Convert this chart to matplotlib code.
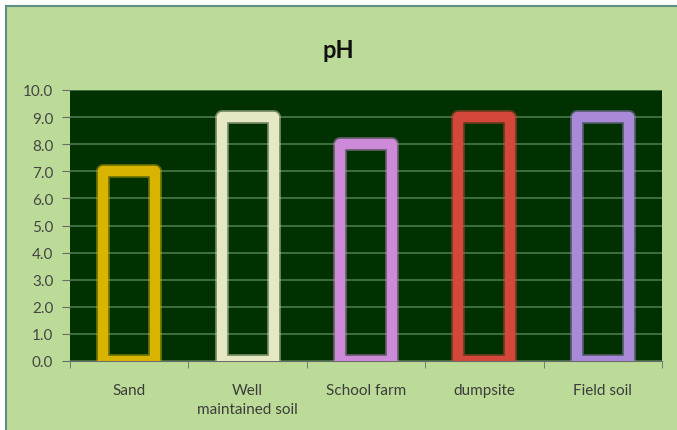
import matplotlib
matplotlib.use("Agg")
import matplotlib.pyplot as plt
from matplotlib.patches import Rectangle
import numpy as np

plt.rcParams['font.family'] = ['Lato', 'DejaVu Sans']

# soil samples and their pH
samples = ['Sand', 'Well\nmaintained soil', 'School farm', 'dumpsite', 'Field soil']
ph = [7.0, 9.0, 8.0, 9.0, 9.0]
edge_colors = ['#d8b400', '#e6e8c4', '#cc8ad8', '#d4483c', '#a88ad8']
yticks = np.arange(0, 10.01, 1.0)

W, H = 677, 431
fig = plt.figure(figsize=(W / 100, H / 100), dpi=100, facecolor='white')

# light green chart panel with a thin frame on the left/top
fig.patches.append(Rectangle((6 / W, -0.01), 1.0, 1 - 7 / H + 0.01,
                             transform=fig.transFigure, facecolor='#bcdb98',
                             edgecolor='#5f8f86', linewidth=1.5, zorder=-5))

ax = fig.add_axes([70 / W, (H - 362) / H, (662 - 70) / W, (362 - 91) / H])
ax.set_facecolor('#013101')

x = np.arange(len(samples))
# soft glow behind the outlined bars
ax.bar(x, ph, width=0.44, fill=False, edgecolor=edge_colors,
       linewidth=10.0, joinstyle='round', alpha=0.45, zorder=2)
ax.bar(x, ph, width=0.44, fill=False, edgecolor=edge_colors,
       linewidth=7.5, joinstyle='round', zorder=3)

ax.set_xlim(-0.5, len(samples) - 0.5)
ax.set_ylim(0, 10)
ax.set_yticks(yticks)
ax.set_yticklabels([f'{v:.1f}' for v in yticks], fontsize=11, color='#454545')
ax.yaxis.grid(True, color='#477a4a', linewidth=1.2, zorder=1)
ax.set_axisbelow(True)

ax.set_xticks(x)
ax.set_xticklabels(samples, fontsize=11, color='#3c3c3c', linespacing=1.45)
ax.set_xticks(np.arange(-0.5, len(samples)), minor=True)
ax.tick_params(axis='x', which='major', length=0, pad=16)
ax.tick_params(axis='x', which='minor', length=5, color='#6b6b6b')
ax.tick_params(axis='y', length=6, color='#6b6b6b', pad=6)

for side in ['top', 'right', 'left']:
    ax.spines[side].set_visible(False)
ax.spines['bottom'].set_color('#6b6b6b')

fig.text(0.5, 1 - 50 / H, 'pH', ha='center', va='center',
         fontsize=17, fontweight='bold', color='#111111')

fig.savefig('out.png', dpi=100, facecolor=fig.get_facecolor())
